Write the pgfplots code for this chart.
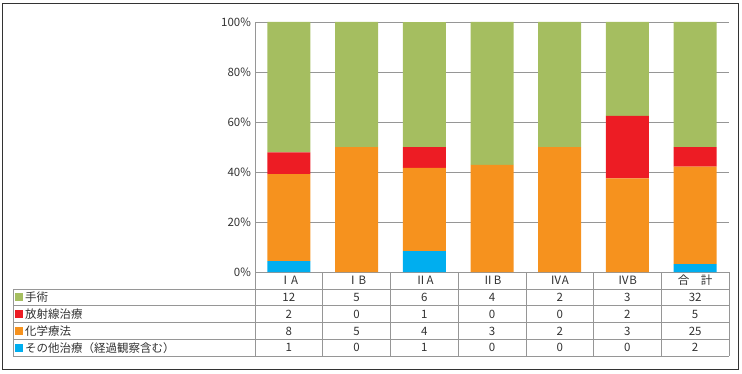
\documentclass[border=0pt]{standalone}
\usepackage{pgfplots}
\pgfplotsset{compat=1.18}
\usepackage{fontspec}
\setmainfont{Noto Sans CJK JP}
\definecolor{cg}{RGB}{165,190,96}
\definecolor{cr}{RGB}{237,28,36}
\definecolor{co}{RGB}{246,146,30}
\definecolor{cb}{RGB}{0,174,239}
\definecolor{gridc}{RGB}{150,150,150}
\definecolor{txt}{RGB}{50,50,50}
\begin{document}
\fontsize{11.5}{13}\selectfont
\begin{tikzpicture}[x=1pt,y=1pt]
\useasboundingbox (0,0) rectangle (742,373);
\draw[line width=1pt, black!80] (2,4) rectangle (738,369);
\begin{axis}[at={(255pt,101pt)}, anchor=south west, scale only axis,
  width=474pt, height=250pt,
  ybar stacked, bar width=43pt,
  xmin=-0.5, xmax=6.5, ymin=0, ymax=100,
  xtick=\empty, ytick={0,20,...,100},
  yticklabel={\pgfmathprintnumber{\tick}\%},
  ymajorgrids, grid style={gridc, line width=0.7pt},
  axis lines=left, axis line style={-, gridc, line width=0.7pt},
  major tick length=0pt,
  /pgf/number format/assume math mode=true,
  tick label style={font=\fontsize{11.5}{13}\selectfont, text=txt},
  clip=false]
\addplot[fill=cb, draw=none] coordinates {(0,4.35) (1,0) (2,8.33) (3,0) (4,0) (5,0) (6,3.13)};
\addplot[fill=co, draw=none] coordinates {(0,34.78) (1,50) (2,33.33) (3,42.86) (4,50) (5,37.5) (6,39.06)};
\addplot[fill=cr, draw=none] coordinates {(0,8.70) (1,0) (2,8.33) (3,0) (4,0) (5,25) (6,7.81)};
\addplot[fill=cg, draw=none] coordinates {(0,52.17) (1,50) (2,50) (3,57.14) (4,50) (5,37.5) (6,50)};
\end{axis}
% table
\foreach \yy in {84,67.2,50.4,33.6,16.8} \draw[gridc, line width=0.7pt] (13,\yy) -- (729,\yy);
\draw[gridc, line width=0.7pt] (13,84) -- (13,16.8);
\foreach \k in {0,...,7} \draw[gridc, line width=0.7pt] ({255+67.714*\k},101) -- ({255+67.714*\k},16.8);
\foreach \lab [count=\i from 0] in {ⅠA,ⅠB,ⅡA,ⅡB,ⅣA,ⅣB,合　計}
  \node[text=txt] at ({255+67.714*(\i+0.5)},92.5) {\lab};
\foreach \v [count=\i from 0] in {12,5,6,4,2,3,32}
  \node[text=txt] at ({255+67.714*(\i+0.5)},75.6) {\v};
\foreach \v [count=\i from 0] in {2,0,1,0,0,2,5}
  \node[text=txt] at ({255+67.714*(\i+0.5)},58.8) {\v};
\foreach \v [count=\i from 0] in {8,5,4,3,2,3,25}
  \node[text=txt] at ({255+67.714*(\i+0.5)},42) {\v};
\foreach \v [count=\i from 0] in {1,0,1,0,0,0,2}
  \node[text=txt] at ({255+67.714*(\i+0.5)},25.2) {\v};
\foreach \c/\lab/\yy in {cg/手術/75.6, cr/放射線治療/58.8, co/化学療法/42, cb/その他治療（経過観察含む）/25.2} {
  \fill[\c] (15,\yy-4) rectangle (23,\yy+4);
  \node[text=txt, anchor=west, inner sep=1pt] at (24,\yy) {\lab};
}
\end{tikzpicture}
\end{document}
